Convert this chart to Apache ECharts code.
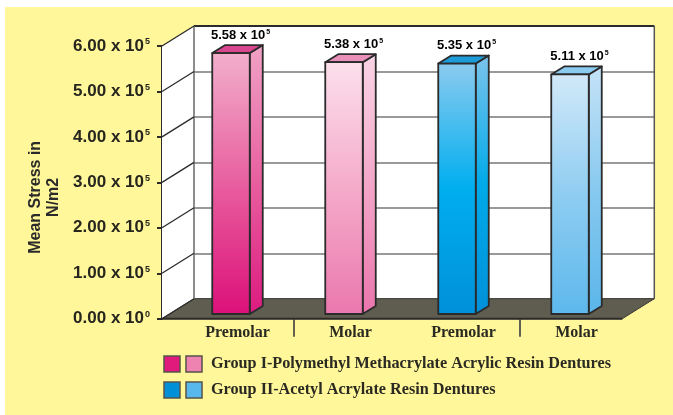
<!DOCTYPE html>
<html>
<head>
<meta charset="utf-8">
<style>
html,body{margin:0;padding:0;background:#fff}
#chart{width:673px;height:415px}
</style>
<script src="https://cdn.jsdelivr.net/npm/echarts@6/dist/echarts.min.js"></script>
</head>
<body>
<div id="chart"></div>
<script>
// Mean stress per tooth type for two denture resin groups
const categories = ['Premolar', 'Molar', 'Premolar', 'Molar'];
const groupOneValues = [5.58, 5.38];
const groupTwoValues = [5.35, 5.11];
const valueExponent = 5;
const tickValues = [0, 1, 2, 3, 4, 5, 6];
const tickExponents = [0, 5, 5, 5, 5, 5, 5];
const axisTitle = 'Mean Stress in\nN/m2';
const groupOneName = 'Group I-Polymethyl Methacrylate Acrylic Resin Dentures';
const groupTwoName = 'Group II-Acetyl Acrylate Resin Dentures';

// Projection of the pseudo 3D box
const DEPTH = { dx: 32, dy: 20 };
const BAR = { width: 37.5, dx: 13, dy: 8, drop: 15.3 };
const INK = '#2b2b2b';
const SERIF = '"Liberation Serif", serif';
const SANS = '"Liberation Sans", sans-serif';

const vGrad = stops => ({
  type: 'linear', x: 0, y: 0, x2: 0, y2: 1,
  colorStops: stops.map(([offset, color]) => ({ offset, color }))
});

const groupOneSkins = [
  { front: vGrad([[0, '#f2afcc'], [0.5, '#e85f9f'], [1, '#dc1079']]), side: vGrad([[0, '#f0a2c6'], [0.5, '#e8609f'], [1, '#dd1a80']]), top: '#d8468f' },
  { front: vGrad([[0, '#fce0ec'], [0.5, '#f5abca'], [1, '#ea78ae']]), side: vGrad([[0, '#fad5e6'], [0.5, '#f3a6c8'], [1, '#e975ac']]), top: '#e88fba' }
];
const groupTwoSkins = [
  { front: vGrad([[0, '#8ccbef'], [0.5, '#00aeef'], [1, '#0090da']]), side: vGrad([[0, '#7cc4ec'], [0.5, '#00aae9'], [1, '#0090da']]), top: '#1e9bd9' },
  { front: vGrad([[0, '#d2e9f9'], [0.5, '#8fcdf1'], [1, '#5db8ec']]), side: vGrad([[0, '#c6e3f7'], [0.5, '#87c9ef'], [1, '#5ab6ea']]), top: '#8ccbf0' }
];

const richSup = (size, color) => ({
  n: { fontFamily: SANS, fontWeight: 'bold', fontSize: size, color, verticalAlign: 'middle' },
  s: { fontFamily: SANS, fontWeight: 'bold', fontSize: Math.round(size * 0.55), color, verticalAlign: 'top', padding: [0, 0, 6, 1] }
});

// Back wall, side wall, floor and the slanted grid lines
function renderFrame(params, api) {
  const cs = params.coordSys;
  const left = cs.x, right = cs.x + cs.width, top = cs.y, bottom = cs.y + cs.height;
  const f = p => [p[0] - DEPTH.dx, p[1] + DEPTH.dy];
  const children = [
    { type: 'polygon', shape: { points: [[left, top], [left, bottom], f([left, bottom]), f([left, top])] },
      style: { fill: '#fff', stroke: null } },
    { type: 'polygon', shape: { points: [[left, bottom], [right, bottom], f([right, bottom]), f([left, bottom])] },
      style: { fill: '#5f5c50', stroke: '#3a3a34', lineWidth: 1 } },
    { type: 'line', shape: { x1: left, y1: top, x2: right, y2: top }, style: { stroke: INK, lineWidth: 2 } },
    { type: 'line', shape: { x1: right, y1: top, x2: right, y2: bottom }, style: { stroke: '#555', lineWidth: 1.5 } },
    { type: 'line', shape: { x1: left, y1: top, x2: left, y2: bottom }, style: { stroke: '#666', lineWidth: 1.5 } }
  ];
  tickValues.forEach(v => {
    const y = api.coord([0, v])[1];
    const end = f([left, y]);
    children.push({ type: 'line', shape: { x1: left, y1: y, x2: end[0], y2: end[1] },
      style: { stroke: INK, lineWidth: 1.3 } });
  });
  const fb = f([left, bottom]), fr = f([right, bottom]);
  children.push({ type: 'line', shape: { x1: fb[0], y1: fb[1], x2: fr[0], y2: fr[1] },
    style: { stroke: INK, lineWidth: 2 } });
  return { type: 'group', children };
}

// One prism per data point; the top follows the value on the wall scale
function barRenderer(skins, firstIndex) {
  return function (params, api) {
    const idx = api.value(0), val = api.value(1);
    const skin = skins[idx - firstIndex];
    const p = api.coord([idx, val]), base = api.coord([idx, 0]);
    const x0 = p[0] - (BAR.width + BAR.dx) / 2, x1 = x0 + BAR.width, x2 = x1 + BAR.dx;
    const backTop = p[1], frontTop = backTop + BAR.dy;
    const frontBottom = base[1] + BAR.drop, backBottom = frontBottom - BAR.dy;
    const edge = { stroke: INK, lineWidth: 1.8, lineJoin: 'round' };
    const text = val.toFixed(2) + ' x 10';
    return {
      type: 'group',
      children: [
        { type: 'polygon', shape: { points: [[x1, frontTop], [x2, backTop], [x2, backBottom], [x1, frontBottom]] },
          style: Object.assign({ fill: skin.side }, edge) },
        { type: 'polygon', shape: { points: [[x0, frontTop], [x0 + BAR.dx, backTop], [x2, backTop], [x1, frontTop]] },
          style: Object.assign({ fill: skin.top }, edge) },
        { type: 'rect', shape: { x: x0, y: frontTop, width: BAR.width, height: frontBottom - frontTop },
          style: Object.assign({ fill: skin.front }, edge) },
        { type: 'text', x: p[0] + 3, y: backTop - 10,
          style: { text: '{n|' + text + '}{s|' + valueExponent + '}', rich: richSup(13, '#2a2a2a'),
            align: 'center', verticalAlign: 'middle' } }
      ]
    };
  };
}

// Dividers under the category labels, at the right edge of a band
function renderDivider(params, api) {
  const idx = api.value(0);
  const c = api.coord([idx, 0]);
  const x = c[0] + api.size([1, 0])[0] / 2;
  return { type: 'line', shape: { x1: x, y1: c[1] + DEPTH.dy, x2: x, y2: c[1] + DEPTH.dy + 18 },
    style: { stroke: '#3a3a3a', lineWidth: 1.6 } };
}

const legendRows = [
  { y: 356, name: groupOneName, colors: ['#e0197d', '#ee82b0'] },
  { y: 382, name: groupTwoName, colors: ['#0090d8', '#58b8ec'] }
];
const legendGraphics = [];
legendRows.forEach(row => {
  row.colors.forEach((color, i) => legendGraphics.push({
    type: 'rect', shape: { x: 164 + i * 22, y: row.y, width: 16, height: 16 },
    style: { fill: color, stroke: '#55544a', lineWidth: 1.5 }
  }));
  legendGraphics.push({
    type: 'text', x: 211, y: row.y + 8,
    style: { text: row.name, fontFamily: SERIF, fontWeight: 'bold', fontSize: 16.2, fill: '#2a2a22',
      align: 'left', verticalAlign: 'middle' }
  });
});

const chart = echarts.init(document.getElementById('chart'), null, { renderer: 'canvas' });
chart.setOption({
  animation: false,
  backgroundColor: '#fff',
  graphic: [
    { type: 'rect', z: -10, silent: true, shape: { x: 5, y: 7, width: 668, height: 408 }, style: { fill: '#fff799' } },
    { type: 'group', z: 10, children: legendGraphics }
  ],
  grid: [
    // back wall, carries the horizontal grid lines
    { left: 194, top: 26, width: 460.3, height: 272.7, show: true, backgroundColor: '#fff', borderWidth: 0 },
    // front plane, carries the value axis
    { left: 162, top: 46, width: 460.3, height: 272.7 },
    // category bands
    { left: 181, top: 26, width: 452, height: 272.7 }
  ],
  xAxis: [
    { gridIndex: 0, type: 'category', data: categories, show: false },
    { gridIndex: 1, type: 'category', data: categories, show: false },
    { gridIndex: 2, type: 'category', data: categories,
      axisLine: { show: false }, axisTick: { show: false },
      axisLabel: { margin: 26, interval: 0, fontFamily: SERIF, fontWeight: 'bold', fontSize: 16, color: '#2a2a22' } }
  ],
  yAxis: [
    { gridIndex: 0, type: 'value', min: 0, max: 6, interval: 1,
      axisLine: { show: false }, axisTick: { show: false }, axisLabel: { show: false },
      splitLine: { show: true, lineStyle: { color: '#777', width: 1.5 } } },
    { gridIndex: 1, type: 'value', min: 0, max: 6, interval: 1,
      name: axisTitle, nameLocation: 'middle', nameGap: 98, nameRotate: 90,
      nameTextStyle: { fontFamily: SANS, fontWeight: 'bold', fontSize: 16, color: '#2a2a2a', lineHeight: 18, padding: [0, 30, 0, 0] },
      axisLine: { show: true, lineStyle: { color: INK, width: 2 } },
      axisTick: { show: true, length: 5, lineStyle: { color: INK, width: 2 } },
      splitLine: { show: false },
      axisLabel: {
        margin: 12, fontSize: 16,
        formatter: v => '{n|' + v.toFixed(2) + ' x 10}{s|' + tickExponents[tickValues.indexOf(v)] + '}',
        rich: richSup(17, '#26261f')
      } },
    { gridIndex: 2, type: 'value', min: 0, max: 6, interval: 1, show: false }
  ],
  series: [
    { name: 'frame', type: 'custom', xAxisIndex: 0, yAxisIndex: 0, z: 1, silent: true,
      data: [[0, 0]], renderItem: renderFrame },
    { name: groupOneName, type: 'custom', xAxisIndex: 2, yAxisIndex: 2, z: 3,
      data: groupOneValues.map((v, i) => [i, v]), renderItem: barRenderer(groupOneSkins, 0) },
    { name: groupTwoName, type: 'custom', xAxisIndex: 2, yAxisIndex: 2, z: 3,
      data: groupTwoValues.map((v, i) => [i + 2, v]), renderItem: barRenderer(groupTwoSkins, 2) },
    { name: 'dividers', type: 'custom', xAxisIndex: 2, yAxisIndex: 2, z: 2, silent: true,
      data: [[0, 0], [2, 0]], renderItem: renderDivider }
  ]
});
</script>
</body>
</html>
